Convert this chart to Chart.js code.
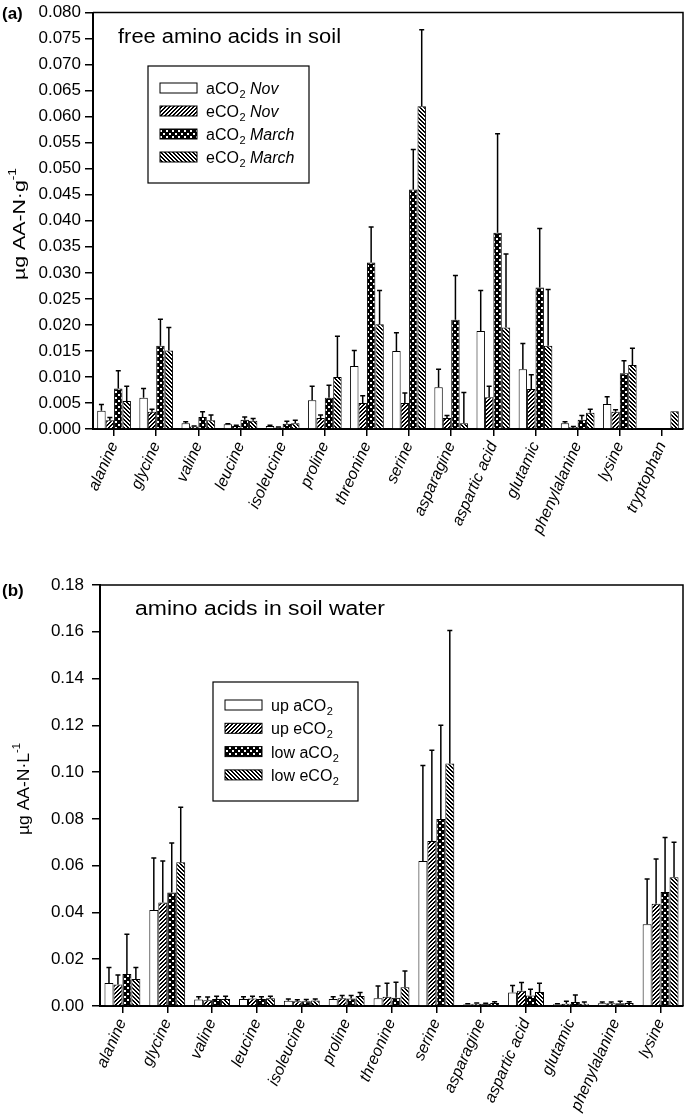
<!DOCTYPE html>
<html>
<head>
<meta charset="utf-8">
<script src="https://cdn.jsdelivr.net/npm/chart.js@4"></script>
<style>
  body { margin: 0; background: #fff; }
  #wrapA { position: absolute; left: 0; top: 0; width: 685px; height: 560px; }
  #wrapB { position: absolute; left: 0; top: 560px; width: 685px; height: 557px; }
</style>
</head>
<body>
<div id="wrapA"><canvas id="chartA"></canvas></div>
<div id="wrapB"><canvas id="chartB"></canvas></div>
<script>
// ---- panel (a): free amino acids in soil (µg AA-N g-1) ----
const acidsA = ['alanine', 'glycine', 'valine', 'leucine', 'isoleucine', 'proline', 'threonine',
  'serine', 'asparagine', 'aspartic acid', 'glutamic', 'phenylalanine', 'lysine', 'tryptophan'];
const novAmb = [0.0035, 0.0060, 0.0011, 0.0009, 0.0006, 0.0055, 0.0121, 0.0150, 0.0080, 0.0188, 0.0115, 0.0011, 0.0048, null];
const novAmbTop = [0.0047, 0.0078, 0.0014, 0.0010, 0.0007, 0.0082, 0.0151, 0.0185, 0.0115, 0.0266, 0.0164, 0.0014, 0.0062, null];
const novElev = [0.0017, 0.0033, 0.0005, 0.0006, 0.0003, 0.0021, 0.0050, 0.0050, 0.0021, 0.0061, 0.0077, 0.0004, 0.0033, null];
const novElevTop = [0.0022, 0.0038, 0.0006, 0.0007, 0.0004, 0.0027, 0.0064, 0.0069, 0.0026, 0.0082, 0.0104, 0.0005, 0.0037, null];
const marAmb = [0.0078, 0.0160, 0.0023, 0.0018, 0.0010, 0.0060, 0.0320, 0.0460, 0.0210, 0.0377, 0.0272, 0.0018, 0.0107, null];
const marAmbTop = [0.0112, 0.0211, 0.0033, 0.0023, 0.0015, 0.0084, 0.0388, 0.0537, 0.0295, 0.0567, 0.0385, 0.0026, 0.0131, null];
const marElev = [0.0054, 0.0151, 0.0017, 0.0016, 0.0011, 0.0100, 0.0201, 0.0620, 0.0011, 0.0195, 0.0160, 0.0031, 0.0123, 0.0034];
const marElevTop = [0.0082, 0.0195, 0.0027, 0.0020, 0.0017, 0.0178, 0.0266, 0.0767, 0.0070, 0.0336, 0.0268, 0.0038, 0.0155, null];

// ---- panel (b): amino acids in soil water (µg AA-N L-1) ----
const acidsB = ['alanine', 'glycine', 'valine', 'leucine', 'isoleucine', 'proline', 'threonine',
  'serine', 'asparagine', 'aspartic acid', 'glutamic', 'phenylalanine', 'lysine'];
const upAmb = [0.0098, 0.0410, 0.0028, 0.0030, 0.0022, 0.0030, 0.0033, 0.0620, 0.0008, 0.0058, 0.0007, 0.0012, 0.0350];
const upAmbTop = [0.0165, 0.0633, 0.0040, 0.0040, 0.0030, 0.0040, 0.0085, 0.1028, 0.0010, 0.0088, 0.0010, 0.0017, 0.0543];
const upElev = [0.0092, 0.0443, 0.0025, 0.0032, 0.0020, 0.0033, 0.0040, 0.0705, 0.0010, 0.0065, 0.0010, 0.0012, 0.0437];
const upElevTop = [0.0133, 0.0620, 0.0038, 0.0042, 0.0027, 0.0045, 0.0097, 0.1093, 0.0013, 0.0100, 0.0020, 0.0017, 0.0628];
const lowAmb = [0.0137, 0.0485, 0.0030, 0.0030, 0.0020, 0.0032, 0.0035, 0.0800, 0.0010, 0.0045, 0.0017, 0.0012, 0.0487];
const lowAmbTop = [0.0307, 0.0697, 0.0042, 0.0040, 0.0028, 0.0045, 0.0102, 0.1200, 0.0012, 0.0072, 0.0047, 0.0020, 0.0720];
const lowElev = [0.0115, 0.0615, 0.0030, 0.0033, 0.0023, 0.0043, 0.0080, 0.1037, 0.0013, 0.0060, 0.0010, 0.0013, 0.0550];
const lowElevTop = [0.0165, 0.0850, 0.0042, 0.0042, 0.0030, 0.0058, 0.0150, 0.1605, 0.0018, 0.0097, 0.0017, 0.0018, 0.0700];

// legend names: [plain, subscript, tail, tail italic?]
const namesA = [['aCO', '2', 'Nov', true], ['eCO', '2', 'Nov', true], ['aCO', '2', 'March', true], ['eCO', '2', 'March', true]];
const namesB = [['up aCO', '2', '', false], ['up eCO', '2', '', false], ['low aCO', '2', '', false], ['low eCO', '2', '', false]];

const FONT = '"Liberation Sans", Arial, sans-serif';
Chart.defaults.font.family = FONT;
Chart.defaults.color = '#000';

// fill patterns (white, //, checker, \\)
function makePattern(kind) {
  const c = document.createElement('canvas');
  const s = kind === 'check' ? 6 : 4;
  c.width = s; c.height = s;
  const g = c.getContext('2d');
  g.fillStyle = '#fff';
  g.fillRect(0, 0, s, s);
  g.fillStyle = '#000';
  if (kind === 'fwd') {
    for (let i = 0; i < s; i++) { g.fillRect(i, s - 1 - i, 1, 1); g.fillRect((i + 1) % s, s - 1 - i, 1, 1); }
  } else if (kind === 'back') {
    for (let i = 0; i < s; i++) { g.fillRect(i, i, 1, 1); g.fillRect((i + 1) % s, i, 1, 1); }
  } else if (kind === 'check') {
    g.fillRect(0, 0, s, s);
    g.fillStyle = '#fff';
    g.fillRect(1, 1, 2, 2);
    g.fillRect(4, 4, 2, 2);
  } else {
    return '#fff';
  }
  return g.createPattern(c, 'repeat');
}
const fills = [makePattern('none'), makePattern('fwd'), makePattern('check'), makePattern('back')];

// upward error bars with small caps
const errorBars = {
  id: 'errorBars',
  afterDatasetsDraw(chart) {
    const ctx = chart.ctx;
    const y = chart.scales.y;
    ctx.save();
    ctx.strokeStyle = '#000';
    ctx.lineWidth = 1.5;
    chart.data.datasets.forEach((ds, i) => {
      chart.getDatasetMeta(i).data.forEach((bar, j) => {
        const top = ds.errTop[j];
        if (top == null || ds.data[j] == null) return;
        const yt = y.getPixelForValue(top);
        ctx.beginPath();
        ctx.moveTo(bar.x, bar.y);
        ctx.lineTo(bar.x, yt);
        ctx.moveTo(bar.x - 2.5, yt);
        ctx.lineTo(bar.x + 2.5, yt);
        ctx.stroke();
      });
    });
    ctx.restore();
  }
};

// text drawn a little wider than the font gives, like the original figure
function wideText(ctx, text, x, y, sx) {
  ctx.save();
  ctx.translate(x, y);
  ctx.scale(sx, 1);
  ctx.fillText(text, 0, 0);
  ctx.restore();
}

// frame, panel letter, inner title, y title and legend box
const decor = {
  id: 'decor',
  afterDraw(chart, args, o) {
    const ctx = chart.ctx;
    const a = chart.chartArea;
    ctx.save();
    ctx.strokeStyle = '#000';
    ctx.lineWidth = 1.5;
    ctx.beginPath();
    ctx.moveTo(a.left, a.top);
    ctx.lineTo(a.right, a.top);
    ctx.lineTo(a.right, a.bottom);
    ctx.stroke();

    ctx.fillStyle = '#000';
    ctx.textBaseline = 'alphabetic';
    ctx.font = 'bold 17px ' + FONT;
    ctx.fillText(o.letter, 2, o.letterY);

    ctx.font = '20px ' + FONT;
    wideText(ctx, o.title, o.titleX, o.titleY, o.titleW / ctx.measureText(o.title).width);

    // y axis title, rotated and stretched to its length
    ctx.save();
    ctx.translate(o.yTitleX, o.yTitleY);
    ctx.rotate(-Math.PI / 2);
    ctx.font = '17px ' + FONT;
    const w1 = ctx.measureText(o.yTitle).width;
    ctx.font = '11px ' + FONT;
    const w2 = ctx.measureText('-1').width;
    const k = o.yTitleLen / (w1 + w2);
    ctx.scale(k, 1);
    const x0 = -(w1 + w2) / 2;
    ctx.font = '17px ' + FONT;
    ctx.fillText(o.yTitle, x0, 0);
    ctx.font = '11px ' + FONT;
    ctx.fillText('-1', x0 + w1, -9);
    ctx.restore();

    // legend
    const L = o.legend;
    ctx.lineWidth = 1.2;
    ctx.strokeRect(L.x, L.y, L.w, L.h);
    o.names.forEach((n, i) => {
      const cy = L.y + L.first + i * L.step;
      ctx.fillStyle = fills[i];
      ctx.fillRect(L.x + 12, cy - 5, 37, 10);
      ctx.lineWidth = 1;
      ctx.strokeRect(L.x + 12, cy - 5, 37, 10);
      ctx.fillStyle = '#000';
      let x = L.x + 58;
      ctx.font = '16px ' + FONT;
      ctx.fillText(n[0], x, cy + 6);
      x += ctx.measureText(n[0]).width;
      ctx.font = '11px ' + FONT;
      ctx.fillText(n[1], x + 0.5, cy + 10);
      x += ctx.measureText(n[1]).width + 5;
      if (n[2]) {
        ctx.font = (n[3] ? 'italic ' : '') + '16px ' + FONT;
        ctx.fillText(n[2], x, cy + 6);
      }
    });
    ctx.restore();
  }
};

function buildChart(id, labels, series, tops, yMax, yStep, digits, yWidth, yPad, xHeight, pad, deco) {
  const datasets = series.map((d, i) => ({
    data: d,
    errTop: tops[i],
    backgroundColor: fills[i],
    borderColor: '#000',
    borderWidth: 1,
    categoryPercentage: 0.8,
    barPercentage: 1.0
  }));
  return new Chart(document.getElementById(id), {
    type: 'bar',
    data: { labels: labels, datasets: datasets },
    plugins: [errorBars, decor],
    options: {
      responsive: true,
      maintainAspectRatio: false,
      animation: false,
      devicePixelRatio: 1,
      layout: { padding: pad },
      plugins: { legend: { display: false }, tooltip: { enabled: false }, decor: deco },
      scales: {
        x: {
          grid: { offset: false, drawOnChartArea: false, tickLength: 7, color: '#000', lineWidth: 1.5 },
          border: { color: '#000', width: 2 },
          ticks: {
            autoSkip: false, minRotation: 66, maxRotation: 66, padding: 3,
            font: { size: 16, style: 'italic' }, color: '#000'
          },
          afterFit: s => { s.height = xHeight; }
        },
        y: {
          min: 0, max: yMax,
          grid: { drawOnChartArea: false, tickLength: 8, color: '#000', lineWidth: 1.5 },
          border: { color: '#000', width: 2 },
          ticks: {
            stepSize: yStep, padding: yPad, font: { size: 17, lineHeight: 1.0 }, color: '#000',
            callback: v => v.toFixed(digits)
          },
          afterFit: s => { s.width = yWidth; }
        }
      }
    }
  });
}

buildChart('chartA', acidsA, [novAmb, novElev, marAmb, marElev], [novAmbTop, novElevTop, marAmbTop, marElevTop],
  0.08, 0.005, 3, 93, 4, 131, { top: 4, right: 2, left: 0, bottom: 0 }, {
    letter: '(a)', letterY: 19, title: 'free amino acids in soil', titleX: 118, titleY: 43, titleW: 223,
    yTitle: 'µg AA-N·g', yTitleX: 25, yTitleY: 224, yTitleLen: 112, names: namesA,
    legend: { x: 148, y: 66, w: 161, h: 117, first: 22, step: 23 }
  });

buildChart('chartB', acidsB, [upAmb, upElev, lowAmb, lowElev], [upAmbTop, upElevTop, lowAmbTop, lowElevTop],
  0.18, 0.02, 2, 100, 8, 111, { top: 25, right: 2, left: 0, bottom: 0 }, {
    letter: '(b)', letterY: 36, title: 'amino acids in soil water', titleX: 135, titleY: 55, titleW: 250,
    yTitle: 'µg AA-N·L', yTitleX: 29, yTitleY: 229, yTitleLen: 92, names: namesB,
    legend: { x: 213, y: 122, w: 145, h: 119, first: 23, step: 23.3 }
  });
</script>
</body>
</html>
